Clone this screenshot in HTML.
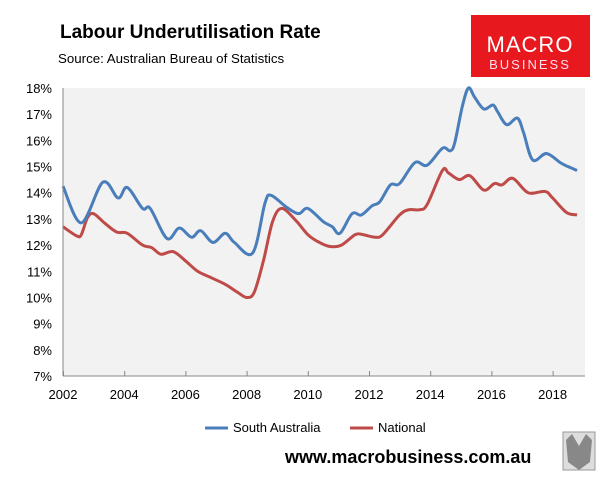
<!DOCTYPE html>
<html><head><meta charset="utf-8"><style>
body{margin:0;background:#fff;font-family:"Liberation Sans",sans-serif;}
svg text{font-family:"Liberation Sans",sans-serif;}
</style></head><body>
<svg id="c" width="611" height="485" xmlns="http://www.w3.org/2000/svg">
<text x="60" y="38" font-size="19" font-weight="bold" fill="#000">Labour Underutilisation Rate</text>
<text x="58" y="63" font-size="13.3" fill="#000">Source: Australian Bureau of Statistics</text>
<g>
<rect x="471" y="15" width="119" height="62" fill="#e8191e"/>
<text x="530" y="52" font-size="22" fill="#fff" text-anchor="middle" letter-spacing="1">MACRO</text>
<text x="530" y="69" font-size="13" fill="#fde" text-anchor="middle" letter-spacing="2">BUSINESS</text>
</g>
<rect x="63" y="88" width="522" height="288" fill="#f2f2f2"/>
<g id="yt"></g><g id="xt"></g><g id="lines"></g>
<line x1="63" y1="88" x2="63" y2="376" stroke="#888"/>
<line x1="63" y1="376" x2="585" y2="376" stroke="#888"/>
<g>
<g><line x1="205" y1="428" x2="228" y2="428" stroke="#4a7ebb" stroke-width="3"/><text x="233" y="432" font-size="13">South Australia</text></g>
<g><line x1="350" y1="428" x2="373" y2="428" stroke="#be4b48" stroke-width="3"/><text x="378" y="432" font-size="13">National</text></g>
</g>
<text x="285" y="463" font-size="18" font-weight="bold">www.macrobusiness.com.au</text>
<g><rect x="563" y="432" width="32" height="38" fill="#ddd" stroke="#999"/><path d="M566 440 L572 434 L579 446 L586 434 L592 440 L590 462 L579 470 L568 462 Z" fill="#888"/></g>
</svg>
<script>
const yTicks=[7,8,9,10,11,12,13,14,15,16,17,18];
const xTicks=[2002,2004,2006,2008,2010,2012,2014,2016,2018];
const saT=[2002.0,2002.6,2003.3,2003.8,2004.1,2004.6,2004.85,2005.4,2005.8,2006.2,2006.5,2006.9,2007.3,2007.6,2008.2,2008.6,2008.8,2009.3,2009.7,2010.0,2010.5,2010.8,2011.05,2011.45,2011.75,2012.1,2012.35,2012.7,2013.0,2013.5,2013.9,2014.4,2014.65,2014.8,2015.05,2015.25,2015.45,2015.75,2016.05,2016.2,2016.5,2016.85,2017.05,2017.35,2017.8,2018.25,2018.5,2018.8];
const saV=[14.25,12.85,14.4,13.8,14.2,13.4,13.4,12.25,12.65,12.3,12.55,12.1,12.45,12.1,11.7,13.6,13.9,13.45,13.2,13.4,12.9,12.7,12.45,13.2,13.15,13.5,13.65,14.3,14.35,15.15,15.05,15.7,15.6,15.9,17.3,18.0,17.65,17.2,17.35,17.1,16.6,16.85,16.3,15.25,15.5,15.15,15.0,14.85];
const natT=[2002.0,2002.45,2002.6,2002.8,2003.0,2003.35,2003.75,2004.1,2004.6,2004.9,2005.2,2005.6,2006.0,2006.4,2006.85,2007.3,2007.7,2008.0,2008.25,2008.55,2008.85,2009.15,2009.6,2010.0,2010.3,2010.7,2011.1,2011.55,2011.8,2012.2,2012.45,2013.0,2013.3,2013.65,2013.9,2014.4,2014.6,2014.95,2015.3,2015.75,2016.1,2016.35,2016.7,2017.2,2017.75,2018.0,2018.45,2018.8];
const natV=[12.7,12.35,12.4,13.05,13.2,12.85,12.5,12.45,12.0,11.9,11.65,11.75,11.4,11.0,10.75,10.5,10.2,10.0,10.2,11.4,12.9,13.4,12.95,12.4,12.15,11.95,12.0,12.4,12.4,12.3,12.4,13.15,13.35,13.35,13.55,14.85,14.75,14.5,14.65,14.1,14.35,14.3,14.55,14.0,14.05,13.8,13.25,13.15];
const NS="http://www.w3.org/2000/svg";
const X=t=>63+(t-2002)*30.6, Y=v=>88+(18-v)*26.18;
const yt=document.getElementById('yt'),xt=document.getElementById('xt'),lg=document.getElementById('lines');
yTicks.forEach(v=>{const t=document.createElementNS(NS,'text');


t.setAttribute('x',52);t.setAttribute('y',Y(v)+5);t.setAttribute('font-size','13');t.setAttribute('text-anchor','end');t.textContent=v+'%';yt.appendChild(t);});
xTicks.forEach(v=>{const t=document.createElementNS(NS,'text');


t.setAttribute('x',X(v));t.setAttribute('y',399);t.setAttribute('font-size','13');t.setAttribute('text-anchor','middle');t.textContent=v;xt.appendChild(t);
const m=document.createElementNS(NS,'line');


m.setAttribute('x1',X(v)+0.5);m.setAttribute('x2',X(v)+0.5);m.setAttribute('y1',371);m.setAttribute('y2',376);m.setAttribute('stroke','#888');xt.appendChild(m);});
function path(ts,vs){const p=ts.map((t,i)=>[X(t),Y(vs[i])]);let d='M'+p[0][0]+' '+p[0][1];
for(let i=0;i<p.length-1;i++){const p0=p[i-1]||p[i],p1=p[i],p2=p[i+1],p3=p[i+2]||p2;
d+=` C${p1[0]+(p2[0]-p0[0])/6} ${p1[1]+(p2[1]-p0[1])/6} ${p2[0]-(p3[0]-p1[0])/6} ${p2[1]-(p3[1]-p1[1])/6} ${p2[0]} ${p2[1]}`;}return d;}
function line(ts,vs,c){const e=document.createElementNS(NS,'path');e.setAttribute('d',path(ts,vs));e.setAttribute('fill','none');e.setAttribute('stroke',c);e.setAttribute('stroke-width','3');e.setAttribute('stroke-linejoin','round');lg.appendChild(e);return e;}
const n=line(natT,natV,'#be4b48');


const s=line(saT,saV,'#4a7ebb');


</script>
</body></html>
